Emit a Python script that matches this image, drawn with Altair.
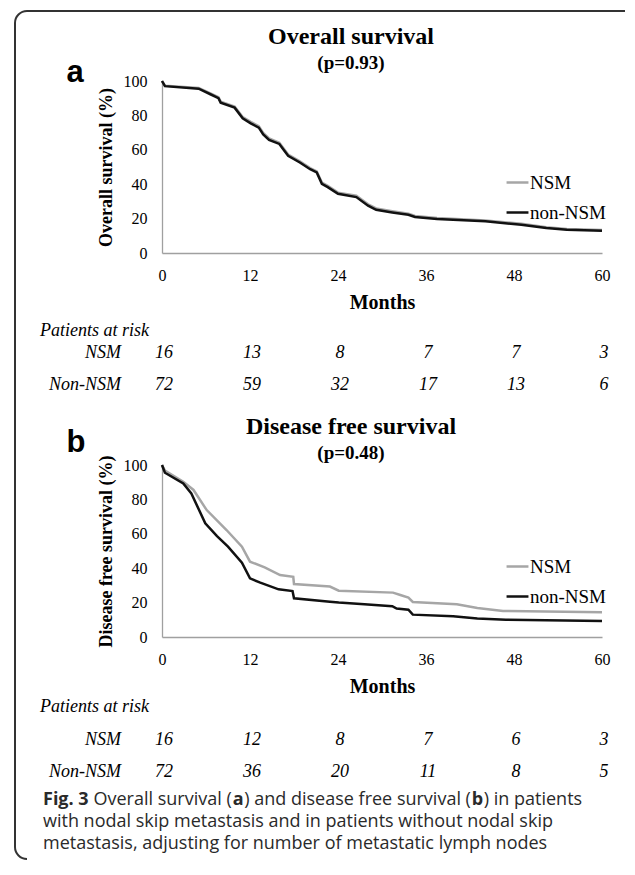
import math
import altair as alt
import pandas as pd

GROUPS = ["NSM", "non-NSM"]
COLORS = ["#a6a6a6", "#111111"]
X_TICKS = [0, 12, 24, 36, 48, 60]
Y_TICKS = [0, 20, 40, 60, 80, 100]

# ---- Overall survival (panel a) ----
os_nsm_t = [0, 0.4, 5.0, 6.6, 7.7, 8.0, 9.9, 11.0, 12.1, 13.2, 13.8, 14.6, 16.0, 17.2, 18.8, 20.2,
            21.1, 21.8, 22.6, 24.0, 26.5, 28.1, 29.2, 31.4, 33.6, 34.5, 37.5, 44.1, 49.0, 52.4, 55.2, 60]
os_nsm_v = [100, 97.3, 95.9, 92.8, 90.6, 88.0, 85.2, 79.0, 76.2, 73.7, 69.8, 66.6, 64.1, 57.2, 53.3, 49.4,
            47.5, 41.0, 39.0, 35.1, 33.3, 28.3, 25.9, 24.3, 22.9, 21.5, 20.3, 18.9, 17.0, 15.0, 14.0, 13.4]
os_non_t = [0, 0.4, 5.0, 6.6, 7.7, 8.0, 9.9, 11.0, 12.1, 13.2, 13.8, 14.6, 16.0, 17.2, 18.8, 20.2,
            21.1, 21.8, 22.6, 24.0, 26.5, 28.1, 29.2, 31.4, 33.6, 34.5, 37.5, 44.1, 49.0, 52.4, 55.2, 60]
os_non_v = [100, 97.0, 95.5, 92.3, 90.0, 87.4, 84.5, 78.3, 75.4, 72.9, 69.0, 65.8, 63.4, 56.5, 52.6, 48.7,
            46.8, 40.2, 38.3, 34.4, 32.5, 27.5, 25.1, 23.6, 22.2, 20.9, 19.7, 18.4, 16.4, 14.5, 13.5, 13.0]

# ---- Disease free survival (panel b) ----
dfs_nsm_t = [0, 0.4, 2.9, 4.3, 6.1, 8.8, 10.9, 12.0, 14.0, 16.1, 17.9, 18.0, 22.9, 24.1, 31.5, 32.5,
             33.6, 34.2, 40.2, 43.0, 46.5, 60]
dfs_nsm_v = [100, 96.7, 90.3, 85.5, 73.8, 62.2, 52.5, 43.8, 40.5, 36.0, 35.0, 30.8, 29.3, 26.9, 25.8, 24.4,
             22.9, 20.4, 19.0, 16.8, 15.1, 14.4]
dfs_non_t = [0, 0.4, 2.9, 4.0, 5.9, 7.5, 9.0, 10.9, 12.0, 13.4, 15.9, 17.8, 18.0, 22.9, 24.1, 27.6,
             31.4, 32.0, 33.6, 34.2, 39.7, 43.0, 46.9, 60]
dfs_non_v = [100, 95.5, 89.3, 83.5, 66.1, 58.7, 52.5, 43.2, 34.1, 31.6, 27.7, 26.7, 22.5, 20.5, 20.0, 19.0,
             17.9, 16.5, 15.9, 13.0, 12.0, 10.7, 10.1, 9.3]

# ---- Patients at risk ----
risk_months = [0, 12, 24, 36, 48, 60]
os_risk_nsm = [16, 13, 8, 7, 7, 3]
os_risk_non = [72, 59, 32, 17, 13, 6]
dfs_risk_nsm = [16, 12, 8, 7, 6, 3]
dfs_risk_non = [72, 36, 20, 11, 8, 5]

# ---- Texts ----
titles = ["Overall survival", "Disease free survival"]
pvalues = ["(p=0.93)", "(p=0.48)"]
letters = ["a", "b"]
ytitles = ["Overall survival (%)", "Disease free survival (%)"]
risk_header = "Patients at risk"
risk_rows = ["NSM", "Non-NSM"]
# (segment, bold, space after)
caption_line1 = [("Fig. 3", True, True), ("Overall survival (", False, False), ("a", True, False),
                 (") and disease free survival (", False, False), ("b", True, False),
                 (") in patients", False, False)]
caption_line2 = "with nodal skip metastasis and in patients without nodal skip"
caption_line3 = "metastasis, adjusting for number of metastatic lymph nodes"

W, H = 440, 172
SERIF = "Liberation Serif"
CAP_FONT = "Open Sans"
CAP_SIZE = 18

# approximate Open Sans advance widths (units per 2048 em) to chain caption segments
REG = {' ': 532, '(': 578, ')': 578, ',': 502, '.': 545, 'a': 1139, 'b': 1255, 'c': 975, 'd': 1255,
       'e': 1149, 'f': 694, 'g': 1122, 'h': 1257, 'i': 518, 'l': 518, 'n': 1257, 'o': 1237, 'p': 1255,
       'r': 836, 's': 977, 't': 723, 'u': 1257, 'v': 1026, 'O': 1599}
BOLD = {'F': 1130, 'i': 608, 'g': 1165, '.': 602, ' ': 532, '3': 1171, 'a': 1208, 'b': 1268}


def text_width(s, bold):
    tab = BOLD if bold else REG
    return sum(tab.get(c, 1150) for c in s) / 2048.0 * CAP_SIZE


def curve_df(t, v, g):
    return pd.DataFrame({"month": t, "surv": v, "group": g})


x_enc = alt.X("month:Q", scale=alt.Scale(domain=[0, 60], nice=False, zero=False),
              axis=alt.Axis(values=X_TICKS, title="Months", labelFlush=False, labelPadding=14,
                            titlePadding=9, titleFontSize=20))


def color_enc(legend_y):
    return alt.Color("group:N", scale=alt.Scale(domain=GROUPS, range=COLORS),
                     legend=alt.Legend(orient="none", legendX=343, legendY=legend_y, title=None,
                                       symbolType="stroke", symbolSize=480, symbolStrokeWidth=2.5,
                                       labelFont=SERIF, labelFontSize=19, labelColor="black",
                                       labelOffset=0, rowPadding=7, padding=0, direction="vertical"))


def label(txt, x, y, **kw):
    return alt.Chart(pd.DataFrame({"label": [txt]})).mark_text(**kw).encode(
        x=alt.value(x), y=alt.value(y), text="label:N")


def panel(i, nsm_t, nsm_v, non_t, non_v, risk_nsm, risk_non, lay):
    y_enc = alt.Y("surv:Q", scale=alt.Scale(domain=[0, 100], nice=False),
                  axis=alt.Axis(values=Y_TICKS, title=ytitles[i], labelPadding=15, titlePadding=8,
                                titleFontSize=18))
    c = color_enc(lay["legend_y"])
    l1 = alt.Chart(curve_df(nsm_t, nsm_v, "NSM")).mark_line(strokeWidth=2.5).encode(
        x=x_enc, y=y_enc, color=c)
    l2 = alt.Chart(curve_df(non_t, non_v, "non-NSM")).mark_line(strokeWidth=2.5).encode(
        x=x_enc, y=y_enc, color=c)
    layers = [l1, l2]
    layers.append(label(titles[i], 189, lay["title_y"], font=SERIF, fontWeight="bold", fontSize=24,
                        align="center", baseline="middle", color="black"))
    layers.append(label(pvalues[i], 189, lay["p_y"], font=SERIF, fontWeight="bold", fontSize=19,
                        align="center", baseline="middle", color="black"))
    layers.append(label(letters[i], lay["letter_x"], lay["letter_y"], font="Liberation Sans",
                        fontWeight="bold", fontSize=31, align="center", baseline="alphabetic",
                        color="black"))
    # patients at risk
    layers.append(label(risk_header, -122, lay["hdr_y"], font=SERIF, fontStyle="italic", fontSize=18,
                        align="left", baseline="middle", color="black"))
    for name, vals, yy in [(risk_rows[0], risk_nsm, lay["r1_y"]), (risk_rows[1], risk_non, lay["r2_y"])]:
        layers.append(label(name, -41, yy, font=SERIF, fontStyle="italic", fontSize=18,
                            align="right", baseline="middle", color="black"))
        rd = pd.DataFrame({"month": risk_months, "n": vals})
        layers.append(alt.Chart(rd).mark_text(font=SERIF, fontStyle="italic", fontSize=18,
                                              align="center", baseline="middle", color="black",
                                              dx=2).encode(x=x_enc, y=alt.value(yy), text="n:Q"))
    return layers


lay_a = dict(title_y=-44, p_y=-18, letter_x=-87, letter_y=1, legend_y=89,
             hdr_y=250, r1_y=272, r2_y=304)
lay_b = dict(title_y=-38, p_y=-12, letter_x=-86, letter_y=-13, legend_y=89,
             hdr_y=242, r1_y=275, r2_y=307)

layers_a = panel(0, os_nsm_t, os_nsm_v, os_non_t, os_non_v, os_risk_nsm, os_risk_non, lay_a)
layers_b = panel(1, dfs_nsm_t, dfs_nsm_v, dfs_non_t, dfs_non_v, dfs_risk_nsm, dfs_risk_non, lay_b)

# frame (rounded border) drawn in panel a coordinates
BC = "#333333"
one = pd.DataFrame({"k": [0]})
layers_a.append(alt.Chart(one).mark_rule(strokeWidth=2, color=BC).encode(
    x=alt.value(-147), y=alt.value(-58), y2=alt.value(766)))
layers_a.append(alt.Chart(one).mark_rule(strokeWidth=2, color=BC).encode(
    x=alt.value(-135), x2=alt.value(463), y=alt.value(-70)))
layers_a.append(alt.Chart(one).mark_arc(innerRadius=11, outerRadius=13, theta=1.5 * math.pi,
                                        theta2=2 * math.pi, color=BC).encode(
    x=alt.value(-135), y=alt.value(-58)))
layers_a.append(alt.Chart(one).mark_arc(innerRadius=11, outerRadius=13, theta=math.pi,
                                        theta2=1.5 * math.pi, color=BC).encode(
    x=alt.value(-135), y=alt.value(766)))

# caption in panel b coordinates
CAP_COLOR = "#2a2a2a"
cap_x0 = -119
cap_y = [335, 357, 379]
cx = cap_x0
for seg, bold, space in caption_line1:
    layers_b.append(label(seg, cx, cap_y[0], font=CAP_FONT, fontSize=CAP_SIZE,
                          fontWeight="bold" if bold else "normal", align="left", baseline="middle",
                          color=CAP_COLOR))
    cx += text_width(seg, bold) + (text_width(" ", False) if space else 1.0)
layers_b.append(label(caption_line2, cap_x0, cap_y[1], font=CAP_FONT, fontSize=CAP_SIZE, align="left",
                      baseline="middle", color=CAP_COLOR))
layers_b.append(label(caption_line3, cap_x0, cap_y[2], font=CAP_FONT, fontSize=CAP_SIZE, align="left",
                      baseline="middle", color=CAP_COLOR))

panel_a = alt.layer(*layers_a).properties(width=W, height=H)
panel_b = alt.layer(*layers_b).properties(width=W, height=H)

chart = (
    alt.vconcat(panel_a, panel_b, spacing=212, bounds="flush")
    .resolve_scale(x="independent", y="independent", color="independent")
    .resolve_legend(color="independent")
    .properties(padding={"left": 6, "top": 2, "right": 0, "bottom": 0}, background="white")
    .configure_view(strokeWidth=0)
    .configure_axis(domainColor="#a0a0a0", domainWidth=1.3, ticks=False, grid=False,
                    labelFont=SERIF, labelFontSize=16, labelColor="black",
                    titleFont=SERIF, titleFontWeight="bold", titleColor="black")
)

chart.save("out.html", embed_options={"renderer": "svg", "actions": False})
